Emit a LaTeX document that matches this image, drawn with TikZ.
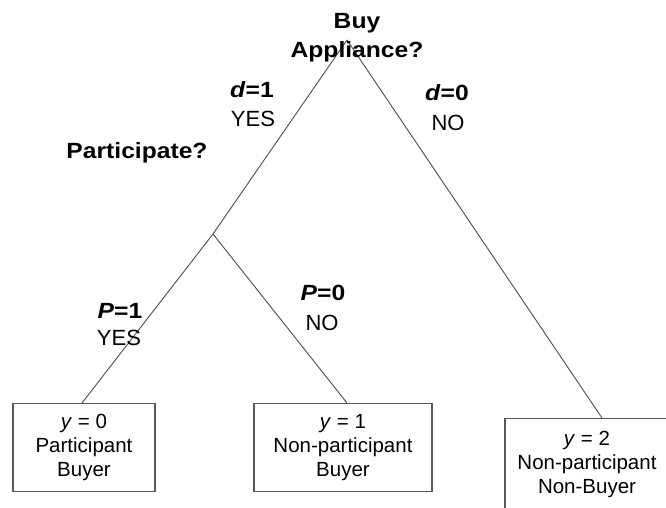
\documentclass[tikz,border=0pt]{standalone}
\usepackage{fontspec}
\setmainfont{Liberation Sans}
\newfontfamily\labfont[FakeStretch=1.12]{Liberation Sans}
\begin{document}
\begin{tikzpicture}[x=1pt,y=-1pt,
  conn/.style={draw=black!70, line width=0.9pt},
  leaf/.style={draw=black!65, line width=1.2pt, anchor=north,
    inner sep=0pt, align=center, font=\fontsize{20.5}{24}\selectfont},
  lab/.style={anchor=base, inner sep=0pt, font=\fontsize{22}{26}\selectfont},
  blab/.style={anchor=base, inner sep=0pt, font=\labfont\bfseries\fontsize{22}{26}\selectfont}]
\useasboundingbox (0,0) rectangle (666,508);
\clip (0,0) rectangle (666,508);
% decision points
\coordinate (root) at (347,40);
\coordinate (split) at (213,234);
% leaves
\node[leaf, minimum width=142pt, minimum height=88pt] (b1) at (84,403) {\textit{y} = 0\\Participant\\Buyer};
\node[leaf, minimum width=178pt, minimum height=88pt] (b2) at (343,403) {\textit{y} = 1\\Non-participant\\Buyer};
\node[leaf, minimum width=164pt, minimum height=92pt] (b3) at (587,418) {\textit{y} = 2\\Non-participant\\Non-Buyer};
% connectors
\draw[conn] (root) -- ([xshift=15pt]b3.north);
\draw[conn] (root) -- (split);
\draw[conn] (split) -- ([xshift=-2pt]b1.north);
\draw[conn] (split) -- ([xshift=4pt]b2.north);
% labels
\node[blab] (buy) at (357,29) {Buy};
\node[blab] (appl) at (357,58) {Appliance?};
\node[blab] (d1) at (252,98) {\textit{d}=1};
\node[lab] (yes1) at (253,126) {YES};
\node[blab] (d0) at (447,101) {\textit{d}=0};
\node[lab] (no1) at (448,130) {NO};
\node[blab] (part) at (137,158) {Participate?};
\node[blab] (p1) at (120,318) {\textit{P}=1};
\node[lab] (yes2) at (119,345) {YES};
\node[blab] (p0) at (323,300) {\textit{P}=0};
\node[lab] (no2) at (322,330) {NO};
\end{tikzpicture}
\end{document}
